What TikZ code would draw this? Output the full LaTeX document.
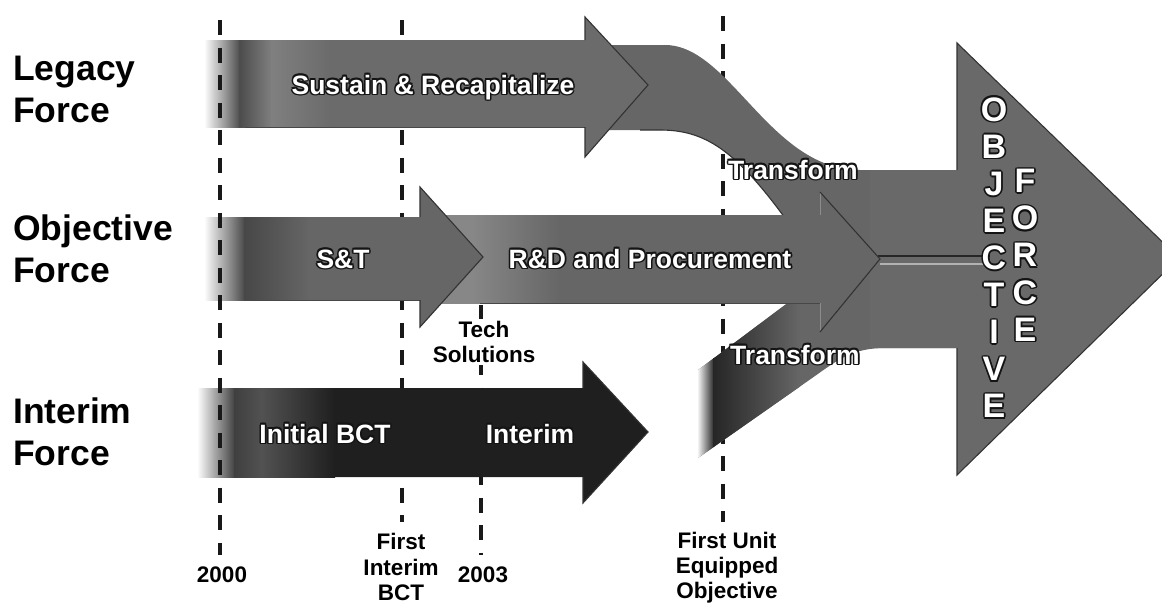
\documentclass[tikz,border=0pt]{standalone}
\usepackage{fontspec}
\setmainfont{Liberation Sans}
\newdimen\hd
\hd=1.6pt
\newcommand\haloed[1]{\setbox0=\hbox{#1}\leavevmode{\color{black!92}%
 \rlap{\kern\hd\copy0}\rlap{\kern-\hd\copy0}\rlap{\raise\hd\copy0}\rlap{\raise-\hd\copy0}%
 \rlap{\kern.7\hd\raise.7\hd\copy0}\rlap{\kern-.7\hd\raise.7\hd\copy0}%
 \rlap{\kern.7\hd\raise-.7\hd\copy0}\rlap{\kern-.7\hd\raise-.7\hd\copy0}}%
 {\color{white}\copy0}}
\newcommand\gseg[6]{\shade[left color=#3,right color=#4] (#1,#5) rectangle (#2,#6);}
\tikzset{
 tl/.style={dash pattern=on 15pt off 12.5pt, line width=3.2pt, black!90},
 outl/.style={draw=black!80, line width=1.1pt, line join=miter},
 softl/.style={draw=black!45, line width=0.8pt},
 rim/.style={draw=black!72, line width=0.9pt},
 bandtxt/.style={font=\fontsize{26.5}{30}\selectfont\bfseries, inner sep=0pt, anchor=base},
 sidelbl/.style={font=\fontsize{35.5}{42}\selectfont\bfseries, align=left, anchor=north west, inner sep=0pt},
 ticklbl/.style={font=\fontsize{22.5}{26}\selectfont\bfseries, align=center, inner sep=0pt},
 objtxt/.style={font=\fontsize{34}{37.1}\selectfont\bfseries, align=center, anchor=north, inner sep=0pt},
}
\begin{document}
\begin{tikzpicture}[x=1pt,y=-1pt]
\useasboundingbox (0,0) rectangle (1162,603);
\clip (0,0) rectangle (1162,603);
% timeline markers (behind)
\draw[tl] (402,20) -- (402,522);
\draw[tl] (481,305) -- (481,555);
\draw[tl] (723,16) -- (723,522);
% legacy -> transform band
\fill[black!60] (600,45) -- (665,45) .. controls (730,45) and (770,170) .. (860,170)
  -- (962,170) -- (962,259) -- (880,259) -- (840,232) -- (785,218)
  .. controls (735,150) and (705,130) .. (660,130) -- (600,130) -- cycle;
\draw[outl] (785,218) .. controls (735,150) and (705,130) .. (660,130) -- (640,130);
% interim -> transform band
\begin{scope}
\clip (698,370) -- (785,305) -- (850,270) -- (880,259) -- (962,259) -- (962,348)
  -- (885,348) .. controls (855,348) and (840,358) .. (815,376) -- (698,458) -- cycle;
\fill[black!60] (690,250) rectangle (970,470);
\gseg{697}{714}{white}{black!85}{250}{470}
\gseg{713.5}{800}{black!85}{black!60}{250}{470}
\end{scope}
% objective force arrow
\fill[black!59] (870,170) -- (957,170) -- (957,43) -- (1179,258) -- (957,475) -- (957,348) -- (870,348) -- cycle;
\draw[outl] (957,170) -- (957,43) -- (1179,258) -- (957,475) -- (957,348);
\draw[black!85, line width=1.5pt] (878,256) -- (990,256);
\draw[black!30, line width=1.5pt] (880,264) -- (990,264);
% R&D arrow
\begin{scope}
\fill[black!60] (440,215) -- (820,215) -- (820,192) -- (880,259) -- (820,332) -- (820,303) -- (440,303) -- cycle;
\clip (440,215) rectangle (820,303);
\gseg{440}{472}{black!47}{black!47}{215}{303}
\gseg{471.5}{560}{black!47}{black!60}{215}{303}
\end{scope}
\draw[rim] (480,303) -- (820,303);
\draw[softl] (820,215) -- (820,192);
\draw[softl] (820,332) -- (820,303);
\draw[outl] (820,192) -- (880,259) -- (820,332);
% S&T arrow
\begin{scope}
\fill[black!60] (205,217) -- (420,217) -- (420,187) -- (483,257) -- (420,327) -- (420,300) -- (205,300) -- cycle;
\clip (205,217) rectangle (420,300);
\gseg{204}{245}{white}{black!72}{217}{300}
\gseg{244.5}{310}{black!72}{black!60}{217}{300}
\end{scope}
\draw[rim] (250,300) -- (420,300);
\draw[outl] (420,217) -- (420,187) -- (483,257) -- (420,327) -- (420,300);
% Legacy arrow
\begin{scope}
\fill[black!58] (205,40) -- (585,40) -- (585,17) -- (648,85) -- (585,157) -- (585,127) -- (205,127) -- cycle;
\clip (205,40) rectangle (585,127);
\gseg{204}{240}{white}{black!70}{40}{127}
\gseg{239.5}{272}{black!70}{black!50}{40}{127}
\gseg{271.5}{330}{black!50}{black!58}{40}{127}
\end{scope}
\draw[rim] (245,127) -- (585,127);
\draw[outl] (585,40) -- (585,17) -- (648,85) -- (585,157) -- (585,127);
% Interim arrow
\begin{scope}
\fill[black!88] (198,388) -- (583,388) -- (583,362) -- (648,432) -- (583,503) -- (583,477) -- (198,477) -- cycle;
\clip (198,388) rectangle (583,477);
\gseg{197}{235}{white}{black!75}{388}{477}
\gseg{234.5}{262}{black!75}{black!68}{388}{477}
\gseg{261.5}{335}{black!68}{black!88}{388}{477}
\end{scope}
\draw[outl] (583,388) -- (583,362) -- (648,432) -- (583,503) -- (583,477);
% 2000 marker on top
\draw[tl] (220,20) -- (220,555);
% side labels
\node[sidelbl] (lf) at (13,56) {Legacy\\Force};
\node[sidelbl] (of) at (13,215) {Objective\\Force};
\node[sidelbl] (inf) at (13,398) {Interim\\Force};
% band labels
\node[bandtxt] (sr) at (433,94) {\haloed{Sustain \& Recapitalize}};
\node[bandtxt] (st) at (343,268) {\haloed{S\&T}};
\node[bandtxt] (rd) at (650,268) {\haloed{R\&D and Procurement}};
\node[bandtxt] (t1) at (793,179) {\haloed{Transform}};
\node[bandtxt] (t2) at (795,364) {\haloed{Transform}};
\node[bandtxt] (ib) at (325,443) {\haloed{Initial BCT}};
\node[bandtxt] (im) at (530,443) {\haloed{Interim}};
% objective force letters
\hd=1.7pt
\node[objtxt] (ob) at (994,95.5) {\haloed{O}\\\haloed{B}\\\haloed{J}\\\haloed{E}\\\haloed{C}\\\haloed{T}\\\haloed{I}\\\haloed{V}\\\haloed{E}};
\node[objtxt] (fo) at (1025,167.5) {\haloed{F}\\\haloed{O}\\\haloed{R}\\\haloed{C}\\\haloed{E}};
% timeline labels
\node[ticklbl, anchor=base] (y0) at (222,582) {2000};
\node[ticklbl, anchor=north, font=\fontsize{22.5}{25.5}\selectfont\bfseries] (fi) at (401,533) {First\\Interim\\BCT};
\node[ticklbl, anchor=base] (y3) at (483,582) {2003};
\node[ticklbl, anchor=north, font=\fontsize{22.5}{25}\selectfont\bfseries] (fu) at (727,532) {First Unit\\Equipped\\Objective};
\node[ticklbl, anchor=north, fill=white, inner sep=2pt, font=\fontsize{22.5}{25}\selectfont\bfseries] (ts) at (484,319) {Tech\\Solutions};
\end{tikzpicture}
\end{document}
